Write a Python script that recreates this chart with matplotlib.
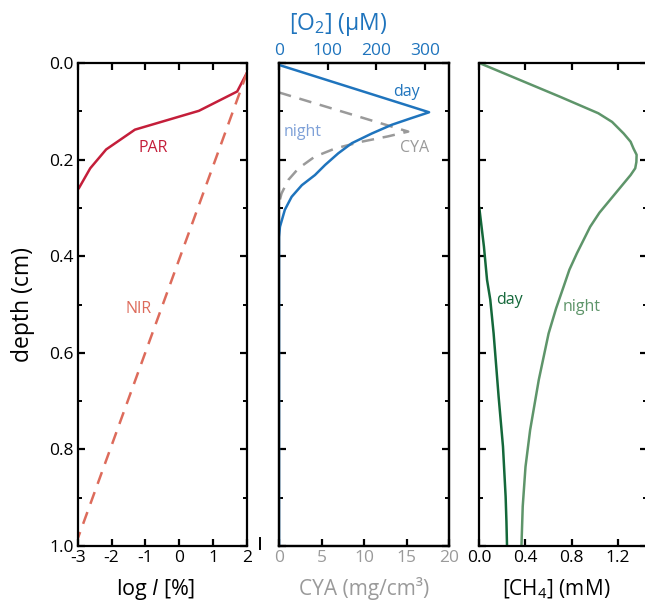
import matplotlib
matplotlib.use("Agg")
import matplotlib.pyplot as plt
from matplotlib.lines import Line2D
from matplotlib.ticker import MultipleLocator, FixedLocator

plt.rcParams['font.family'] = ['Open Sans', 'DejaVu Sans']
plt.rcParams['mathtext.fontset'] = 'custom'
plt.rcParams['mathtext.rm'] = 'Open Sans'
plt.rcParams['mathtext.it'] = 'Open Sans:italic'
plt.rcParams['mathtext.default'] = 'rm'

# ---- data ----
par_logI = [2.0, 1.71, 0.58, -1.31, -2.16, -2.63, -2.98]
par_depth = [0.02, 0.059, 0.099, 0.138, 0.179, 0.218, 0.261]
nir_logI = [2.0, -3.0]
nir_depth = [0.02, 0.985]

o2_day = [0, 309, 270, 232, 191, 150, 122, 95, 74, 47, 26, 12, 2, 0, 0]
o2_day_depth = [0.004, 0.102, 0.115, 0.128, 0.146, 0.166, 0.187, 0.211, 0.232, 0.253, 0.277,
                0.304, 0.339, 0.36, 1.0]

cya = [0, 15.2, 12.8, 9.7, 6.6, 4.2, 2.3, 1.1, 0.3, 0.0]
cya_depth = [0.061, 0.142, 0.152, 0.163, 0.177, 0.194, 0.218, 0.242, 0.27, 0.29]

ch4_night = [0.0, 0.70, 1.03, 1.15, 1.25, 1.31, 1.335, 1.362, 1.36, 1.35, 1.31, 1.22, 1.13,
             1.04, 0.96, 0.845, 0.78, 0.73, 0.665, 0.60, 0.515, 0.44, 0.40, 0.376, 0.365]
ch4_night_depth = [0.0, 0.07, 0.104, 0.122, 0.146, 0.163, 0.177, 0.19, 0.205, 0.218, 0.232,
                   0.258, 0.284, 0.31, 0.339, 0.394, 0.428, 0.463, 0.508, 0.56, 0.656, 0.76,
                   0.836, 0.918, 1.0]
ch4_day = [0.0, 0.04, 0.067, 0.095, 0.124, 0.167, 0.205, 0.228, 0.235, 0.24]
ch4_day_depth = [0.30, 0.38, 0.449, 0.49, 0.56, 0.69, 0.794, 0.898, 0.95, 1.0]

logI_ticks = [-3, -2, -1, 0, 1, 2]
cya_ticks = [0, 5, 10, 15, 20]
o2_ticks = [0, 100, 200, 300]
ch4_ticks = [0.0, 0.4, 0.8, 1.2]
depth_ticks = [0.0, 0.2, 0.4, 0.6, 0.8, 1.0]

# ---- colors ----
c_par = '#c41e3a'
c_nir = '#dd6b5b'
c_o2 = '#1f74bd'
c_night_o2 = '#7fa1d8'
c_cya = '#9a9a9a'
c_ch4n = '#5e956a'
c_ch4d = '#14683a'

W, H = 645, 601
fig = plt.figure(figsize=(W / 100, H / 100), dpi=100)

def fx(px):
    return px / W

def fy(py):
    return 1 - py / H

top, bot = 63, 546
def make_ax(x0, x1):
    return fig.add_axes([fx(x0), fy(bot), fx(x1) - fx(x0), fy(top) - fy(bot)])

ax1 = make_ax(77.7, 247)
ax2 = make_ax(279, 449)
ax3 = make_ax(479.3, 647)

tick_fs = 12.5
for ax in (ax1, ax2, ax3):
    for s in ax.spines.values():
        s.set_linewidth(1.6)
    ax.set_ylim(1.0, 0.0)
    ax.yaxis.set_major_locator(FixedLocator(depth_ticks))
    ax.yaxis.set_minor_locator(MultipleLocator(0.1))
    ax.tick_params(axis='both', which='major', direction='in', length=5, width=1.6,
                   labelsize=tick_fs, top=True, right=True, pad=3)
    ax.tick_params(axis='both', which='minor', direction='in', length=3, width=1.4,
                   top=True, right=True)
    ax.tick_params(axis='y', which='minor', left=True, right=True)

# ---- left panel ----
ax1.plot(par_logI, par_depth, color=c_par, lw=1.8, solid_capstyle='butt')
ax1.plot(nir_logI, nir_depth, color=c_nir, lw=1.8, dashes=(5, 3.5))
ax1.set_xlim(-3, 2)
ax1.xaxis.set_major_locator(FixedLocator(logI_ticks))
ax1.set_yticklabels(['0.0', '0.2', '0.4', '0.6', '0.8', '1.0'])
ax1.set_xticklabels(['-3', '-2', '-1', '0', '1', '2'])
ax1.set_ylabel('depth (cm)', fontsize=16.5)
ax1.yaxis.set_label_coords(-0.25, 0.5)
ax1.set_xlabel(r'log $\mathit{I}$ [%]', fontsize=15.5)
ax1.xaxis.set_label_coords(0.46, -0.065)
ax1.text(-1.2, 0.175, 'PAR', color=c_par, fontsize=11.5, ha='left', va='center')
ax1.text(-1.6, 0.51, 'NIR', color=c_nir, fontsize=11.5, ha='left', va='center')

# ---- middle panel ----
ax2.plot(cya, cya_depth, color=c_cya, lw=1.8, dashes=(5, 3.5))
ax2.set_xlim(0, 20)
ax2.xaxis.set_major_locator(FixedLocator(cya_ticks))
ax2.tick_params(axis='x', labelcolor=c_cya, top=False)
ax2.set_yticklabels([])
ax2.set_xlabel('CYA (mg/cm³)', fontsize=15, color=c_cya)
ax2.xaxis.set_label_coords(0.5, -0.065)

ax2t = ax2.twiny()
ax2t.plot(o2_day, o2_day_depth, color=c_o2, lw=1.8)
ax2t.set_xlim(0, 350)
ax2t.set_ylim(1.0, 0.0)
ax2t.xaxis.set_major_locator(FixedLocator(o2_ticks))
ax2t.tick_params(axis='x', direction='in', length=5, width=1.6, labelsize=tick_fs,
                 labelcolor=c_o2, pad=3)
for s in ax2t.spines.values():
    s.set_linewidth(1.6)
ax2t.set_xlabel('[O$_2$] (μM)', fontsize=16.5, color=c_o2)
ax2t.xaxis.set_label_coords(0.347, 1.068)
ax2t.text(235, 0.06, 'day', color=c_o2, fontsize=11.5, ha='left', va='center')
ax2t.text(10, 0.143, 'night', color=c_night_o2, fontsize=11.5, ha='left', va='center')
ax2.text(14.2, 0.177, 'CYA', color=c_cya, fontsize=11.5, ha='left', va='center')

# ---- right panel ----
ax3.plot(ch4_night, ch4_night_depth, color=c_ch4n, lw=1.8)
ax3.plot(ch4_day, ch4_day_depth, color=c_ch4d, lw=1.8)
ax3.set_xlim(0, 1.452)
ax3.xaxis.set_major_locator(FixedLocator(ch4_ticks))
ax3.set_xticklabels(['0.0', '0.4', '0.8', '1.2'])
ax3.set_yticklabels([])
ax3.set_xlabel('[CH$_4$] (mM)', fontsize=15)
ax3.xaxis.set_label_coords(0.457, -0.065)
ax3.text(0.15, 0.49, 'day', color=c_ch4d, fontsize=11.5, ha='left', va='center')
ax3.text(0.72, 0.505, 'night', color=c_ch4n, fontsize=11.5, ha='left', va='center')

# stray mark between panels
fig.add_artist(Line2D([fx(260), fx(260)], [fy(538), fy(549)], color='black', lw=1.4))

fig.savefig('out.png', dpi=100)
